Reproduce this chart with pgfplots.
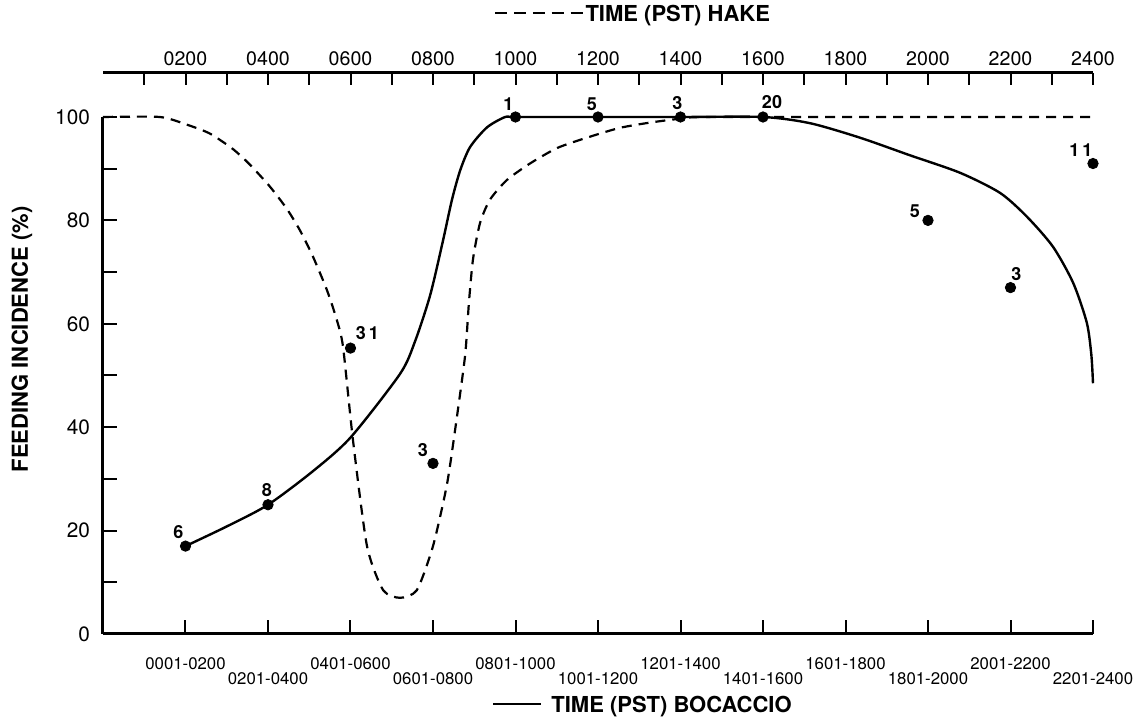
\documentclass[border=0pt]{standalone}
\usepackage{pgfplots}
\pgfplotsset{compat=1.18}
\usepackage{fontspec}
\setmainfont{TeX Gyre Heros}

% lowered tick label (second row of the staggered bottom labels)
\newcommand{\dn}[1]{\raisebox{-7.5pt}[\height][\depth]{#1}}
\newcommand{\dsh}{\rule[0.32em]{6pt}{1.1pt}\hspace{3.4pt}}

\pgfplotstableread{
h v lab dx dy
200 17 6 -3.5 7
400 25 8 -0.5 7.5
600 55.3 {3\,1} 8.5 7.5
800 33 3 -5 6.5
1000 100 1 -3.5 6.5
1200 100 5 -3 6.5
1400 100 3 -1.5 7
1600 100 20 4.5 7.5
2000 80 5 -6.5 4.5
2200 67 3 3 7
2400 91 {1\,1} -6 6.5
}\bocpoints

\pgfplotstableread{
h v
200 17
300 20.8
400 25
509 31.5
600 38
720 50.3
756 56.5
793 65.5
824 76
846 84
866 89.7
890 94.2
931 98
975 100
1000 100
1200 100
1400 100
1600 100
1714 98.8
1835 96
1956 92.6
2078 89.2
2175 85.3
2240 80.7
2303 74.9
2352 67.9
2385 60.2
2396 54
2400 48.5
}\boccurve

\pgfplotstableread{
h v
0 100
138 100
204 98.5
259 96.8
315 93.8
356 90.8
405 86.5
446 82.2
478 78
509 73
543 66.5
567 60.7
582 55.5
606 37.5
640 17
679 8.5
720 7
761 8.5
800 17
834 29
858 42
878 54
887 64
897 72.5
914 79.5
938 84
979 87.8
1035 91
1101 94
1173 96
1253 97.9
1333 99
1416 99.8
1500 100
2400 100
}\hakecurve

\begin{document}
\begin{tikzpicture}
% top axis: hake time
\begin{axis}[
    at={(0,0)}, anchor=south west,
    scale only axis, width=495pt, height=280.5pt,
    xmin=0, xmax=2400, ymin=0, ymax=1,
    axis x line=top, axis y line=none,
    axis line style={-, line width=1.5pt},
    xtick={200,400,...,2400},
    xticklabels={0200,0400,0600,0800,1000,1200,1400,1600,1800,2000,2200,2400},
    minor xtick={100,300,...,2300},
    tick align=inside,
    major tick length=6pt, minor tick length=6pt,
    tick style={line width=1pt, black},
    xticklabel style={font=\fontsize{9.8}{11}\selectfont},
    xlabel={\dsh\dsh\dsh\dsh\rule[0.32em]{6pt}{1.1pt}\hspace{1.5pt}\textbf{TIME (PST) HAKE}},
    xlabel style={at={(axis description cs:0.535,1.103)}, anchor=center,
        font=\fontsize{11}{13}\selectfont},
]
\end{axis}
% main axis: bocaccio time
\begin{axis}[
    at={(0,0)}, anchor=south west,
    scale only axis, width=495pt, height=258.5pt,
    xmin=0, xmax=2400, ymin=0, ymax=100,
    clip=false,
    axis x line=bottom, axis y line=left,
    axis line style={-, line width=1.5pt},
    tick align=inside,
    tick style={line width=1pt, black},
    ytick={0,20,...,100},
    minor ytick={10,30,...,90},
    major tick length=7pt, minor tick length=7pt,
    xtick={200,400,...,2400},
    xticklabels={0001-0200,\dn{0201-0400},0401-0600,\dn{0601-0800},0801-1000,\dn{1001-1200},
        1201-1400,\dn{1401-1600},1601-1800,\dn{1801-2000},2001-2200,\dn{2201-2400}},
    /pgf/number format/assume math mode=true,
    xticklabel style={font=\fontsize{8.4}{10}\selectfont, yshift=-8.5pt},
    yticklabel style={font=\fontsize{10.4}{12}\selectfont, xshift=-3pt},
    xlabel={\rule[0.32em]{24pt}{1.1pt}\hspace{5pt}\textbf{TIME (PST) BOCACCIO}},
    xlabel style={at={(axis description cs:0.545,-0.14)}, anchor=center,
        font=\fontsize{11}{13}\selectfont},
    ylabel={\textbf{FEEDING INCIDENCE (\%)}},
    ylabel style={at={(axis description cs:-0.082,0.57)}, anchor=center, rotate=0,
        font=\fontsize{11}{13}\selectfont},
]
\addplot[line width=1.2pt, smooth, tension=0.45, black] table[x=h, y=v] {\boccurve};
\addplot[line width=1.1pt, smooth, tension=0.4, black, dash pattern=on 5pt off 3.5pt] table[x=h, y=v] {\hakecurve};
\addplot[only marks, mark=*, mark size=2.6pt, black,
    nodes near coords, point meta=explicit symbolic,
    visualization depends on={\thisrow{dx} \as \dx},
    visualization depends on={\thisrow{dy} \as \dy},
    every node near coord/.append style={anchor=center, xshift=\dx pt, yshift=\dy pt,
        font=\bfseries\fontsize{9}{10}\selectfont, inner sep=0pt},
] table[x=h, y=v, meta=lab] {\bocpoints};
\end{axis}
\pgfresetboundingbox
\path[use as bounding box] (-51.5pt,-42pt) rectangle (517pt,317pt);
\end{tikzpicture}
\end{document}
